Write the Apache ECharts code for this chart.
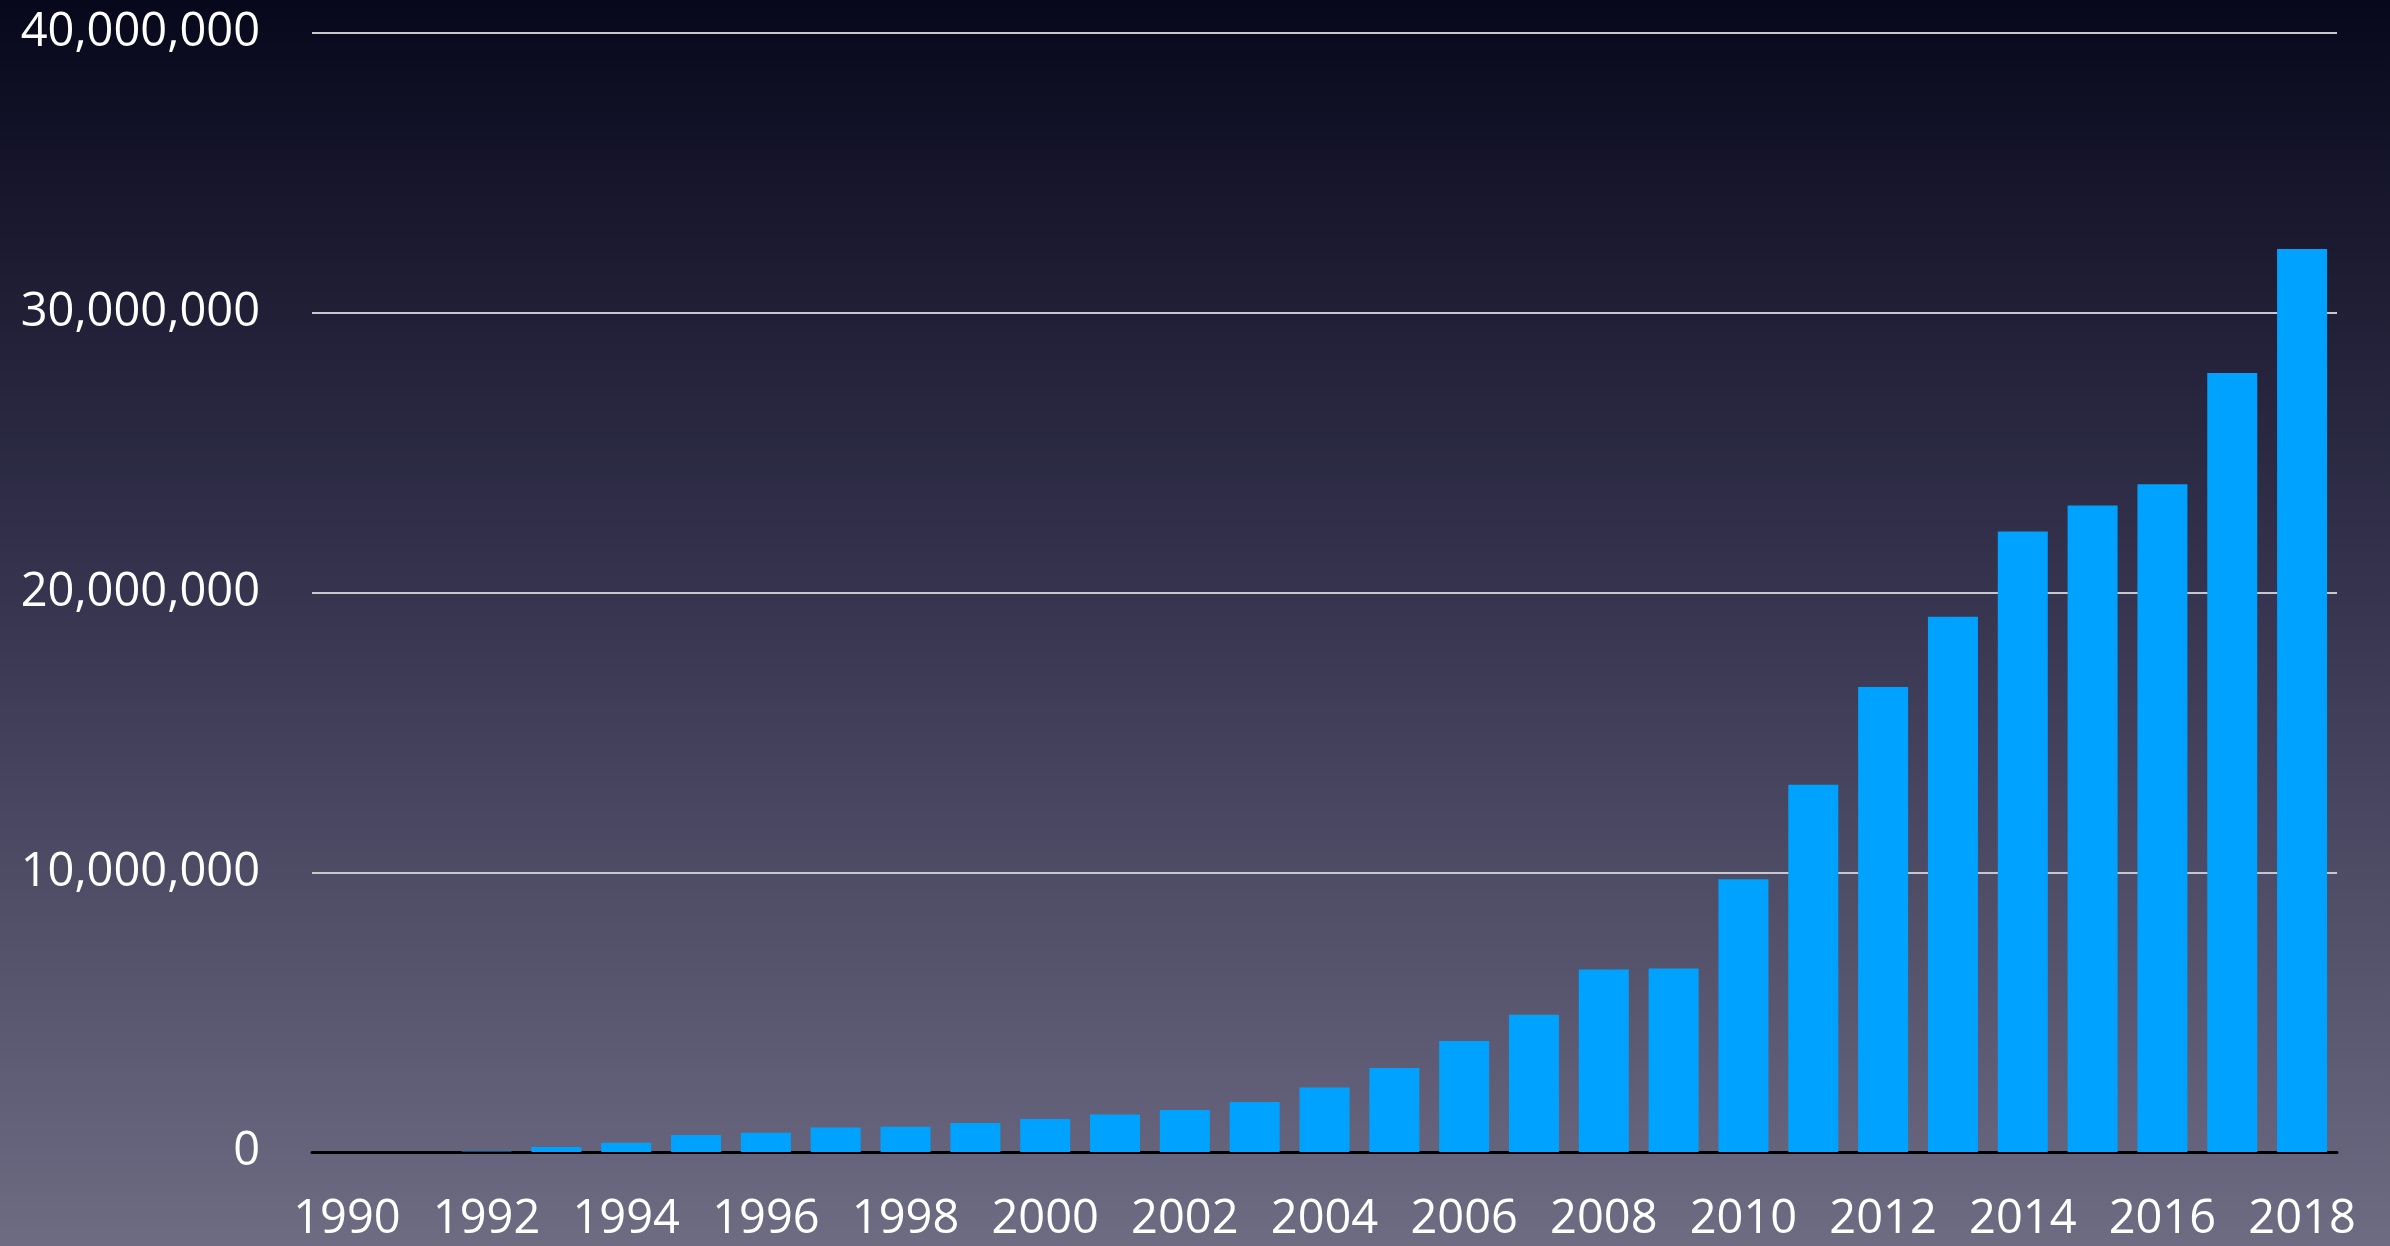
<!DOCTYPE html>
<html>
<head>
<meta charset="utf-8">
<script src="https://cdn.jsdelivr.net/npm/echarts@6/dist/echarts.min.js"></script>
<style>
html,body{margin:0;padding:0;width:2390px;height:1246px;overflow:hidden;}
#chart{width:2390px;height:1246px;}
</style>
</head>
<body>
<div id="chart"></div>
<script>
const years = ['1990','1991','1992','1993','1994','1995','1996','1997','1998','1999',
  '2000','2001','2002','2003','2004','2005','2006','2007','2008','2009',
  '2010','2011','2012','2013','2014','2015','2016','2017','2018'];
const values = [0, 0, 20000, 180000, 330000, 610000, 690000, 880000, 900000, 1040000,
  1180000, 1340000, 1500000, 1790000, 2310000, 3000000, 3970000, 4910000, 6520000, 6560000,
  9750000, 13130000, 16620000, 19130000, 22180000, 23110000, 23870000, 27850000, 32280000];
const yTicks = [0, 10000000, 20000000, 30000000, 40000000];

const chart = echarts.init(document.getElementById('chart'));
const font = '"Open Sans", Lato, sans-serif';
chart.setOption({
  backgroundColor: {
    type: 'linear', x: 0, y: 0, x2: 0, y2: 1,
    colorStops: [
      {offset: 0, color: '#08081c'},
      {offset: 0.5, color: '#383651'},
      {offset: 1, color: '#6e6c83'}
    ]
  },
  animation: false,
  grid: {left: 312, right: 53, top: 33, bottom: 94, containLabel: false},
  xAxis: {
    type: 'category',
    data: years,
    axisLine: {show: true, lineStyle: {color: '#000000', width: 3}},
    axisTick: {show: false},
    axisLabel: {
      interval: 1,
      color: '#ffffff',
      fontFamily: font,
      fontSize: 47,
      margin: 44
    }
  },
  yAxis: {
    type: 'value',
    min: 0,
    max: 40000000,
    interval: 10000000,
    axisLine: {show: false},
    axisTick: {show: false},
    splitLine: {show: true, lineStyle: {color: '#c8c8cc', width: 2}},
    axisLabel: {
      color: '#ffffff',
      fontFamily: font,
      fontSize: 47,
      margin: 52,
      formatter: function (v) { return yTicks.indexOf(v) >= 0 ? v.toLocaleString('en-US') : ''; }
    }
  },
  series: [{
    type: 'bar',
    data: values,
    barCategoryGap: '28.4%',
    itemStyle: {color: '#00a2ff'}
  }]
});
</script>
</body>
</html>
